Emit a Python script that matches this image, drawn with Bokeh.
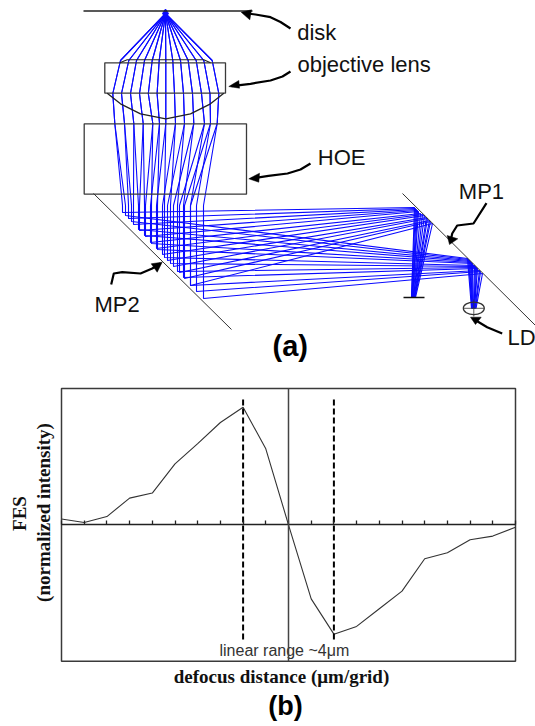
from bokeh.plotting import figure
from bokeh.models import Range1d, FixedTicker
from bokeh.core.properties import value
from bokeh.layouts import column
from bokeh.embed import file_html
from bokeh.resources import INLINE

# ---------- panel (b) data ----------
grid_ticks = [-10, -9, -8, -7, -6, -5, -4, -3, -2, -1, 0, 1, 2, 3, 4, 5, 6, 7, 8, 9, 10]
fes_x = [-10, -9, -8, -7, -6, -5, -4, -3, -2, -1, 0, 1, 2, 3, 4, 5, 6, 7, 8, 9, 10]
fes_y = [0.05, 0.02, 0.07, 0.227, 0.27, 0.518, 0.69, 0.87, 1.0, 0.646, 0.0, -0.63, -0.93,
         -0.864, -0.714, -0.564, -0.289, -0.238, -0.127, -0.096, -0.02]
range_x = [-2, 2]
range_top = [1.065, 1.065]
range_bottom = [-0.99, -0.99]

# ---------- panel (a) data: a ray trace ----------
focus = (165, 13)
lens_top_y, lens_bottom_y, hoe_top_y, vertical_from_y = 60, 93, 123, 205
x_lens_top = [120, 128.3, 136, 144, 151.7, 158.7, 165.3, 172.3, 180, 187.7, 195.7, 203.3, 211.7]
x_lens_bottom = [112.3, 121, 130, 139, 147.8, 156.6, 165.3, 174, 183, 192, 201, 209.5, 218.3]
x_hoe_top = [114.3, 124, 133.3, 142.7, 152.3, 159, 165.3, 175, 184, 193.3, 204, 210, 216.7]
# where each ray reaches MP2, for the two beams the HOE makes
hit_a_x = [122, 128, 133, 139, 145, 150, 156, 162, 167, 173, 179, 184, 190]
hit_a_y = [212, 218, 224, 230, 236, 242, 248, 254, 260, 266, 272, 278, 285]
hit_b_x = [125, 131, 138, 144, 151, 157, 164, 170, 177, 183, 190, 196, 203]
hit_b_y = [215, 221, 229, 235, 243, 249, 257, 263, 271, 277, 285, 291, 298]
# where each ray reaches MP1
spot_a_x = [414, 415, 416, 417, 418, 420, 422, 424, 426, 427, 429, 430, 432]
spot_a_y = [207, 208, 209, 210, 211, 213, 214, 215, 217, 218, 220, 221, 223]
spot_b_x = [467, 468, 469, 470, 471, 472, 474, 475, 476, 477, 479, 480, 482]
spot_b_y = [258, 259, 260, 261, 262, 263, 265, 266, 267, 268, 270, 271, 273]
# where each ray ends, on the detector and on the LD
end_a_x = [411, 411, 411.5, 412, 412, 412.5, 413, 413, 413.5, 414, 414, 414.5, 415]
end_a_y = [297, 297, 297, 297, 297, 297, 297, 297, 297, 297, 297, 297, 297]
end_b_x = [471, 471.5, 471.5, 472, 472, 472.5, 473, 473.5, 474, 474, 474.5, 475, 475.5]
end_b_y = [308, 308, 308, 308, 308, 308, 308, 308, 308, 308, 308, 308, 308]

lens_curve_x = [106.7, 120, 140, 165.3, 190, 210, 223.3]
lens_curve_y = [92.7, 103.3, 113.3, 118.3, 113.3, 103.3, 92.7]
lens_cap_x = [119.3, 126.7, 203.3, 210]
lens_cap_y = [62.3, 59.3, 59.3, 62.3]

arrow_paths = {
    "disk": ([290, 280, 270, 255, 243], [28, 21.5, 16.7, 14, 12.5]),
    "lens": ([290, 282, 270, 250, 231], [71, 76, 80, 83.3, 85.7]),
    "hoe": ([310, 300, 287, 268, 251], [163, 169, 173, 175.3, 178]),
    "mp2": ([110.7, 113.3, 121.7, 140, 151.7, 160], [284, 273, 271.7, 273, 268, 263]),
    "mp1": ([486, 473, 456.7, 451.7, 450], [202.7, 223, 225, 233, 241]),
    "ld": ([501.7, 486.7, 473], [333, 326.7, 318.5]),
}
arrow_heads = {
    "disk": ([240.7, 251, 249.3], [11.7, 9.3, 19.3]),
    "lens": ([228.3, 238.3, 239], [86, 80, 87.7]),
    "hoe": ([248.3, 259, 258.3], [178.3, 172.7, 181.7]),
    "mp2": ([161.7, 150.7, 156.7], [261.7, 263.3, 271.7]),
    "mp1": ([449, 446.7, 457.3], [244, 235, 238.3]),
    "ld": ([470, 480.7, 475], [316.7, 316.7, 324]),
}

BLUE = "#0a0aff"
DARK = "#3a3a3a"
sans = value("Liberation Sans")
serif = value("Liberation Serif")
# The rendered page puts alphabetic text about this fraction of its size below the requested line.
BASE = 0.36

# ---------- panel (a) ----------
a = figure(width=535, height=370, x_range=Range1d(0, 535), y_range=Range1d(370, 0),
           toolbar_location=None, output_backend="svg", min_border=0,
           x_axis_type=None, y_axis_type=None, outline_line_color=None)
a.grid.visible = False
a.frame_align = False

ray_xs, ray_ys = [], []
for i in range(len(x_hoe_top)):
    for hx, hy, sx, sy, ex, ey in ((hit_a_x[i], hit_a_y[i], spot_a_x[i], spot_a_y[i], end_a_x[i], end_a_y[i]),
                                   (hit_b_x[i], hit_b_y[i], spot_b_x[i], spot_b_y[i], end_b_x[i], end_b_y[i])):
        ray_xs.append([focus[0], x_lens_top[i], x_lens_bottom[i], x_hoe_top[i], hx, hx, sx, ex])
        ray_ys.append([focus[1], lens_top_y, lens_bottom_y, hoe_top_y, vertical_from_y, hy, sy, ey])
a.multi_line(ray_xs, ray_ys, line_color=BLUE, line_width=1.1)
a.scatter([focus[0]], [focus[1]], marker="diamond", size=9, fill_color=BLUE, line_color=BLUE)

a.segment([83], [10.5], [252], [10.5], line_color="#222222", line_width=1.5)
a.quad(left=[104.3, 83.7], right=[225, 246], top=[62.3, 123.3], bottom=[92.7, 193.7],
       fill_color=None, line_color=DARK, line_width=1.3)
a.line(lens_curve_x, lens_curve_y, line_color="#222222", line_width=1.3)
a.line(lens_cap_x, lens_cap_y, line_color="#222222", line_width=1.1)
a.segment([93, 402], [193, 193], [231, 535], [329, 325], line_color="#333333", line_width=1)
a.segment([403], [297], [424], [297], line_color="#111111", line_width=1.5)
a.ellipse([473.3], [307.8], width=21, height=12.5, fill_color=None, line_color="#333333", line_width=1.2)
a.segment([473.3, 462.5], [299, 307.8], [473.3, 484], [316, 307.8], line_color="#333333", line_width=0.8)

for key in arrow_paths:
    a.line(*arrow_paths[key], line_color="black", line_width=2.2, line_join="round")
    a.patch(*arrow_heads[key], fill_color="black", line_color="black", line_width=0.5)

lift22 = BASE * 22
a.text([296.7, 297, 317.3, 94, 458.3, 507],
       [40 - lift22, 71.5 - lift22, 165 - lift22, 311.7 - lift22, 199.3 - lift22, 345 - lift22],
       text=["disk", "objective lens", "HOE", "MP2", "MP1", "LD"],
       text_font=sans, text_font_size="22px", text_color="#111111", text_baseline="alphabetic")
a.text([272], [355 - BASE * 27], text=["(a)"], text_font=sans, text_font_style="bold",
       text_font_size="29px", text_color="black", text_baseline="alphabetic")


# ---------- panel (b) ----------
def px(v):
    return (v - 288) / 22.7


def py(v):
    return (524.3 - v) / 117.6


b = figure(width=535, height=356, x_range=Range1d(px(0), px(535)), y_range=Range1d(py(726), py(370)),
           toolbar_location=None, output_backend="svg", min_border=0, outline_line_color=None)
b.grid.visible = False
b.frame_align = False

b.quad(left=[-10], right=[10], bottom=[-1.16], top=[1.16], fill_color=None, line_color=DARK, line_width=1.5)

xax = b.xaxis[0]
xax.fixed_location = 0
xax.bounds = (-10, 10)
xax.ticker = FixedTicker(ticks=grid_ticks)
xax.major_tick_in = 4
xax.major_tick_out = 0
xax.minor_tick_line_color = None
xax.major_tick_line_color = "#222222"
xax.major_tick_line_width = 1.3
xax.axis_line_color = "#222222"
xax.axis_line_width = 1.5
xax.major_label_overrides = {t: "" for t in grid_ticks}

yax = b.yaxis[0]
yax.fixed_location = 0
yax.bounds = (-1.16, 1.16)
yax.ticker = FixedTicker(ticks=[])
yax.major_tick_line_color = None
yax.minor_tick_line_color = None
yax.axis_line_color = "#444444"
yax.axis_line_width = 1.5

b.line(fes_x, fes_y, line_color="#333333", line_width=1.1)
b.segment(range_x, range_top, range_x, range_bottom, line_color="black", line_width=2, line_dash="6 3")

lift19 = BASE * 19
b.text([px(281)], [py(683 - lift19)], text=["defocus distance (μm/grid)"], text_font=serif,
       text_font_style="bold", text_font_size="19px", text_align="center",
       text_baseline="alphabetic", text_color="#111111")
b.text([px(26 - lift19)], [py(513)], text=["FES"], text_font=serif, text_font_style="bold",
       text_font_size="19px", text_align="center", text_baseline="alphabetic",
       angle=90, angle_units="deg", text_color="#111111")
b.text([px(50 - lift19)], [py(512)], text=["(normalized intensity)"], text_font=serif,
       text_font_style="bold", text_font_size="19px", text_align="center",
       text_baseline="alphabetic", angle=90, angle_units="deg", text_color="#111111")
b.text([px(219)], [py(656 - BASE * 16)], text=["linear range ~4μm"], text_font=sans,
       text_font_size="16px", text_baseline="alphabetic", text_color="#333333")
b.text([px(285)], [py(715 - BASE * 27)], text=["(b)"], text_font=sans, text_font_style="bold",
       text_font_size="27px", text_align="center", text_baseline="alphabetic",
       text_color="black")

page = column(a, b, spacing=0)
open("out.html", "w").write(file_html(page, INLINE))
